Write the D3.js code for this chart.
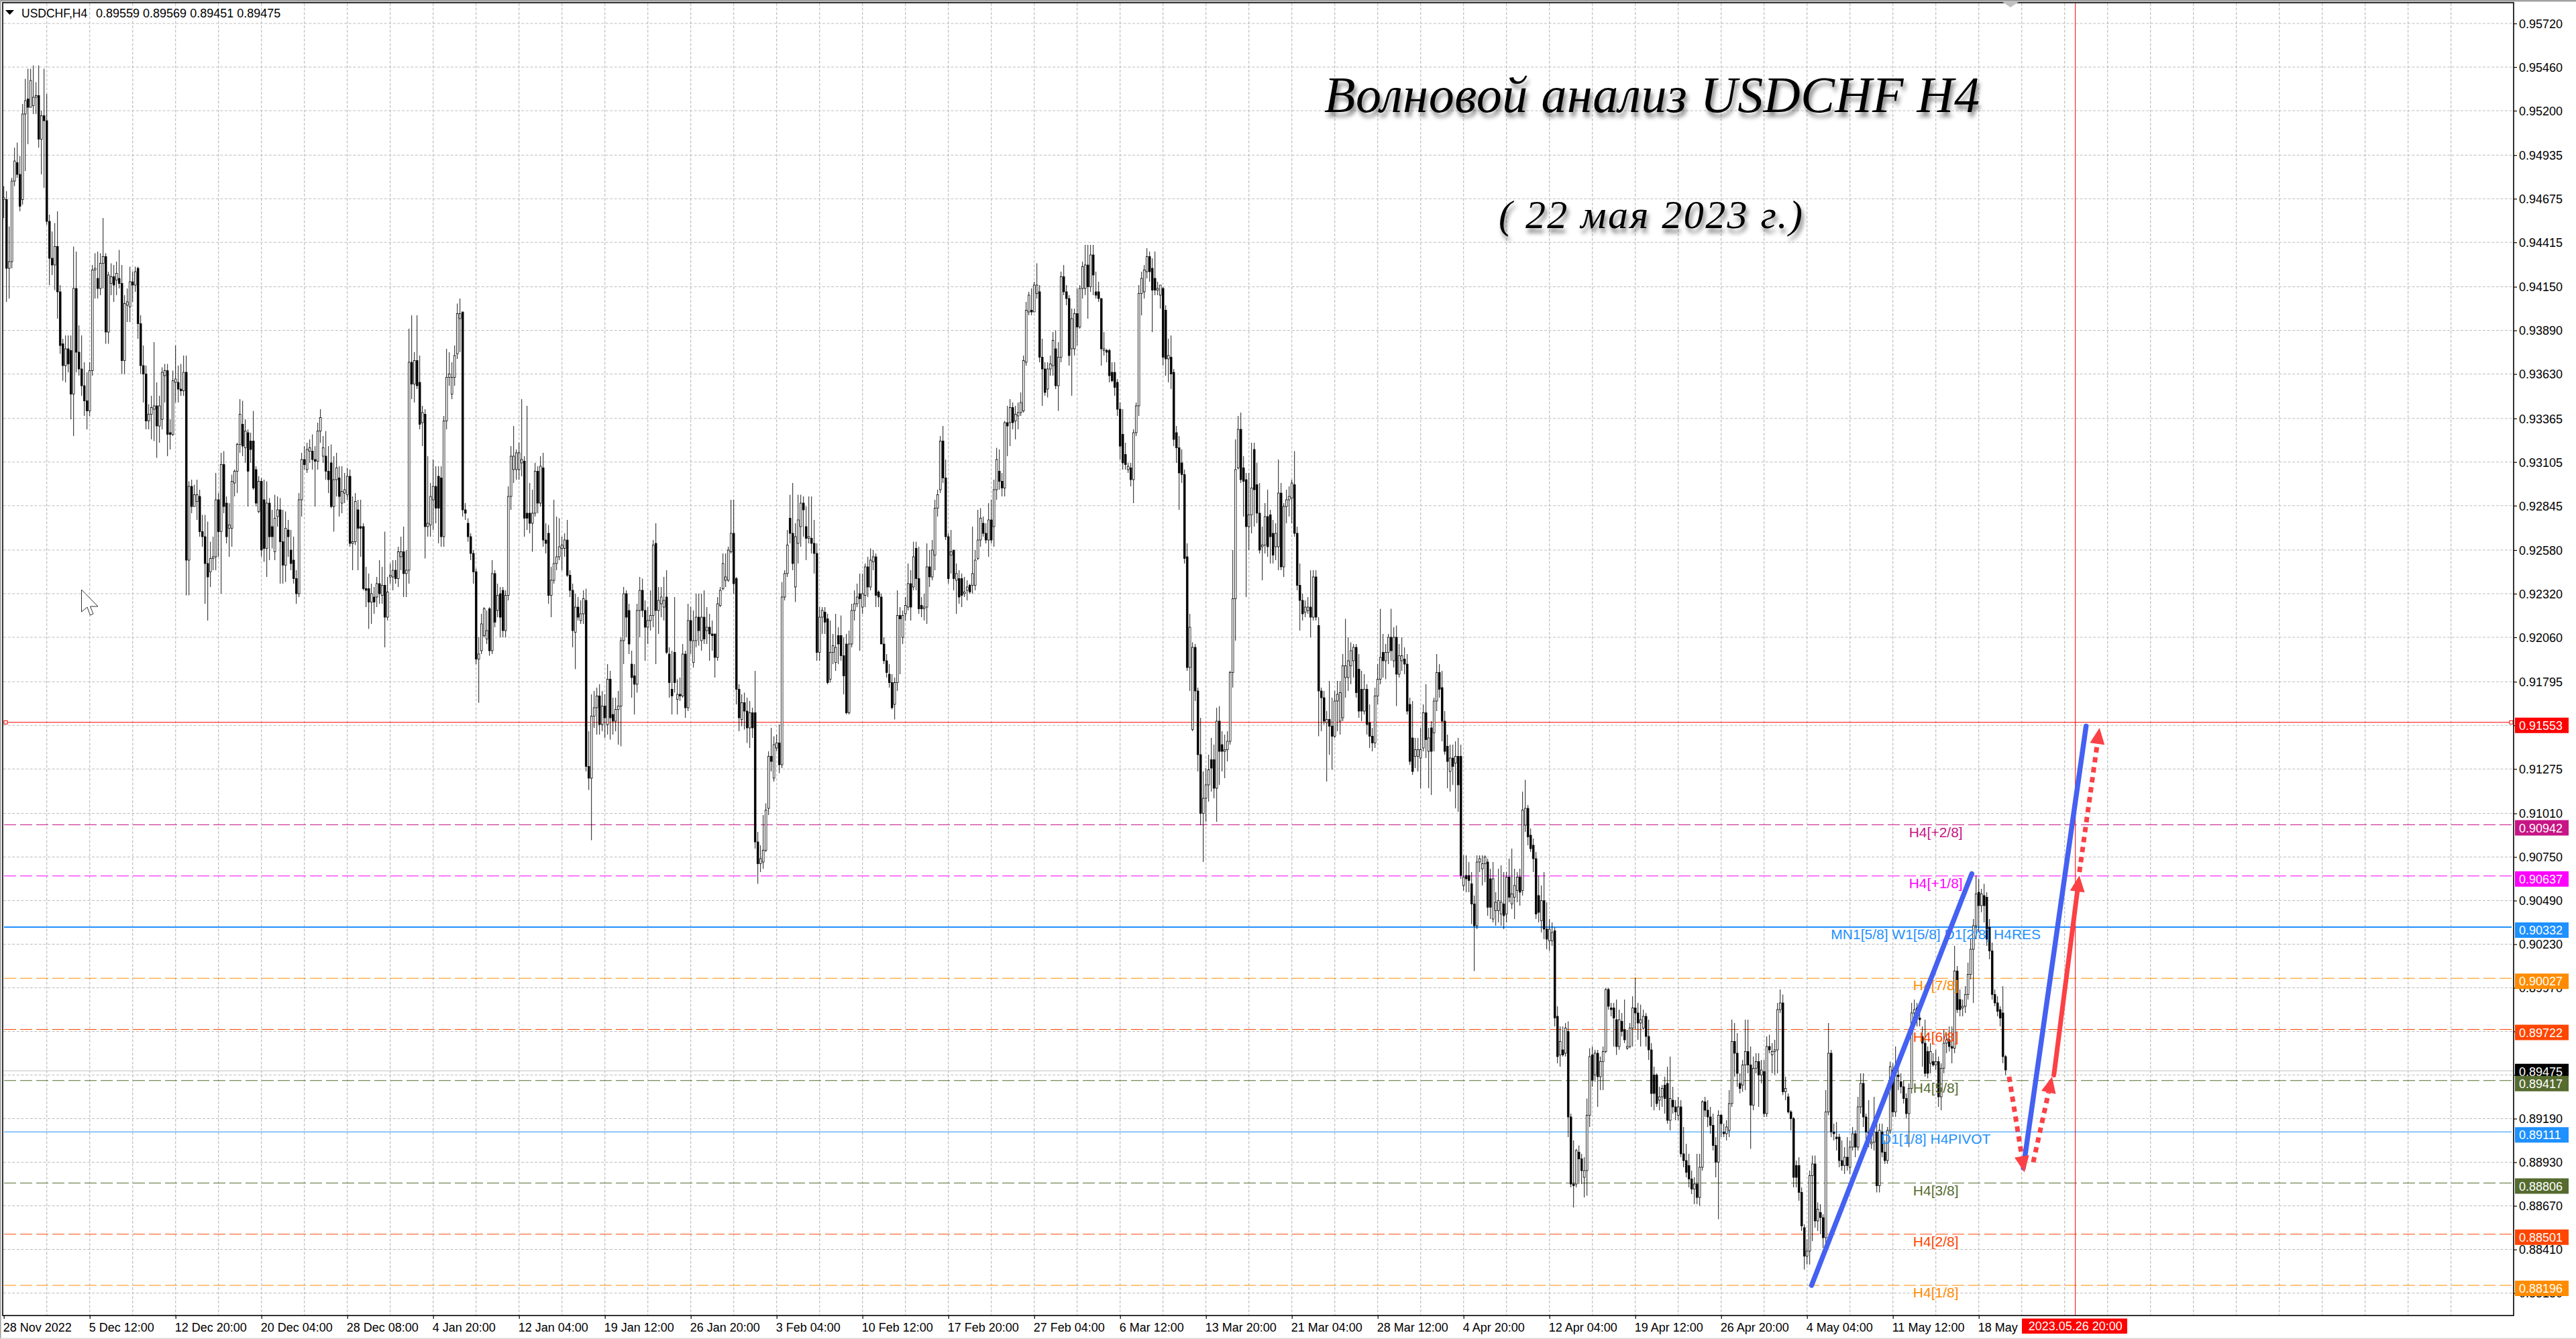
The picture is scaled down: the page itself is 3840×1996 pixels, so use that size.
<!DOCTYPE html>
<html><head><meta charset="utf-8">
<script src="https://d3js.org/d3.v7.min.js"></script>
<style>html,body{margin:0;padding:0;background:#fff;overflow:hidden}svg{display:block}text{font-family:"Liberation Sans",Arial,sans-serif}</style>
</head><body><svg id="c" width="3840" height="1996"></svg>
<script>
// Candle values in pips (1/10000)
const opens=[
9467,9467,9426,9430,9478,9489,9482,9467,9518,9527,
9522,9523,9528,9529,9503,9517,9514,9454,9432,9428,
9439,9412,9381,9368,9378,9377,9351,9414,9376,9366,
9356,9347,9341,9365,9425,9420,9414,9429,9433,9388,
9417,9421,9419,9420,9417,9371,9404,9403,9418,9416,
9426,9393,9368,9363,9335,9339,9342,9344,9332,9336,
9362,9365,9328,9327,9358,9358,9354,9353,9364,9252,
9296,9284,9287,9290,9269,9266,9250,9245,9253,9254,
9288,9269,9309,9286,9271,9271,9298,9305,9321,9333,
9319,9328,9323,9323,9306,9281,9299,9288,9259,9286,
9272,9257,9278,9282,9263,9249,9270,9258,9252,9241,
9232,9288,9312,9306,9317,9317,9312,9311,9329,9314,
9314,9305,9310,9284,9300,9301,9286,9292,9291,9302,
9262,9263,9282,9272,9272,9235,9235,9227,9230,9230,
9238,9231,9237,9218,9242,9242,9246,9241,9254,9257,
9244,9246,9370,9357,9371,9358,9334,9339,9272,9273,
9288,9296,9302,9301,9266,9335,9361,9351,9361,9375,
9396,9400,9282,9274,9266,9256,9245,9193,9198,9207,
9205,9223,9198,9244,9222,9232,9234,9210,9231,9290,
9306,9306,9306,9310,9311,9280,9280,9274,9280,9305,
9286,9307,9264,9268,9231,9240,9250,9254,9259,9259,
9264,9243,9234,9209,9224,9216,9220,9228,9129,9122,
9159,9164,9171,9154,9165,9154,9181,9160,9156,9163,
9165,9204,9232,9222,9190,9183,9178,9222,9234,9222,
9212,9216,9219,9262,9222,9226,9224,9230,9196,9175,
9197,9169,9172,9171,9196,9164,9216,9191,9204,9218,
9204,9218,9210,9212,9208,9208,9194,9225,9235,9240,
9240,9257,9268,9241,9175,9157,9167,9162,9152,9161,
9161,9084,9071,9072,9079,9104,9135,9122,9140,9143,
9130,9230,9244,9277,9268,9236,9262,9272,9286,9272,
9265,9265,9262,9256,9197,9218,9221,9217,9181,9197,
9191,9207,9207,9195,9202,9161,9202,9222,9226,9232,
9224,9231,9248,9236,9251,9254,9233,9230,9202,9192,
9184,9179,9166,9179,9219,9206,9220,9224,9238,9236,
9259,9241,9225,9223,9224,9248,9242,9255,9283,9294,
9323,9301,9266,9255,9258,9240,9241,9241,9232,9234,
9237,9237,9237,9253,9264,9274,9268,9264,9276,9272,
9294,9305,9299,9295,9334,9334,9343,9335,9338,9340,
9341,9370,9400,9401,9400,9411,9412,9373,9366,9354,
9366,9368,9378,9356,9373,9421,9412,9408,9378,9378,
9399,9391,9414,9414,9428,9415,9434,9412,9412,9408,
9377,9377,9377,9364,9364,9358,9342,9327,9315,9306,
9307,9300,9328,9344,9411,9412,9424,9433,9426,9420,
9413,9410,9414,9401,9372,9373,9364,9328,9319,9310,
9303,9254,9188,9151,9200,9174,9136,9101,9110,9118,
9133,9133,9116,9156,9142,9138,9139,9144,9185,9229,
9307,9330,9307,9300,9272,9279,9318,9297,9280,9260,
9261,9278,9279,9268,9260,9260,9292,9248,9284,9288,
9289,9297,9268,9237,9228,9221,9222,9224,9218,9242,
9213,9174,9170,9155,9157,9153,9147,9168,9156,9158,
9182,9182,9189,9192,9200,9187,9175,9162,9175,9155,
9147,9143,9171,9181,9197,9192,9197,9206,9192,9206,
9184,9192,9193,9190,9166,9146,9135,9135,9134,9140,
9161,9138,9152,9149,9168,9185,9176,9156,9141,9126,
9134,9131,9135,9135,9058,9064,9064,9059,9047,9034,
9072,9068,9071,9072,9062,9038,9043,9043,9041,9047,
9041,9063,9047,9051,9055,9063,9055,9094,9104,9088,
9082,9074,9052,9037,9049,9032,9025,9025,9031,8980,
8957,8960,8958,8971,8920,8880,8880,8899,8895,8884,
8888,8921,8957,8945,8958,8944,8953,8959,8996,8985,
8985,8978,8962,8977,8972,8961,8962,8973,8985,8982,
8976,8973,8980,8968,8960,8945,8945,8930,8932,8939,
8940,8918,8930,8926,8921,8926,8898,8894,8891,8883,
8877,8880,8872,8890,8929,8924,8920,8915,8903,8893,
8921,8911,8910,8912,8928,8965,8958,8940,8939,8951,
8959,8951,8927,8949,8953,8945,8947,8922,8962,8957,
8959,8960,8984,8988,8935,8932,8923,8919,8891,8891,
8875,8854,8837,8840,8885,8892,8858,8863,8860,8848,
8923,8958,8911,8908,8908,8894,8891,8896,8890,8902,
8910,8902,8926,8940,8920,8911,8904,8905,8911,8879,
8911,8899,8894,8912,8948,8923,8945,8941,8938,8931,
8922,8937,8982,8985,8979,8968,8964,8959,8952,8953,
8951,8953,8932,8949,8964,8966,8962,8961,9007,8990,
8985,8986,8993,9005,9020,9034,9054,9046,9052,9051,
9033,9019,8993,8988,8984,8982,8956];
const closes=[
9468,9426,9430,9478,9490,9482,9463,9518,9526,9522,
9538,9528,9529,9503,9517,9514,9454,9432,9428,9439,
9412,9380,9368,9378,9369,9351,9414,9376,9366,9356,
9347,9341,9365,9425,9426,9414,9429,9433,9388,9422,
9421,9416,9423,9417,9371,9405,9406,9418,9416,9424,
9393,9368,9363,9335,9339,9343,9344,9332,9344,9364,
9365,9327,9327,9359,9360,9354,9353,9364,9252,9296,
9284,9291,9291,9269,9266,9250,9242,9253,9254,9288,
9269,9309,9284,9266,9273,9299,9305,9321,9339,9320,
9329,9305,9318,9295,9286,9299,9258,9259,9286,9266,
9266,9277,9282,9263,9249,9271,9266,9250,9241,9232,
9288,9312,9309,9318,9319,9312,9311,9329,9337,9319,
9305,9300,9284,9300,9307,9290,9293,9294,9302,9262,
9263,9287,9271,9271,9235,9234,9227,9232,9227,9238,
9232,9237,9218,9233,9243,9246,9241,9257,9257,9244,
9246,9370,9357,9371,9356,9333,9340,9272,9274,9290,
9296,9283,9283,9266,9335,9361,9363,9361,9374,9399,
9399,9282,9280,9266,9256,9245,9193,9196,9214,9223,
9210,9198,9244,9215,9231,9218,9210,9231,9290,9314,
9314,9316,9316,9312,9277,9277,9274,9280,9305,9286,
9308,9264,9262,9231,9240,9250,9254,9260,9261,9264,
9243,9234,9210,9224,9218,9220,9229,9129,9122,9159,
9164,9171,9154,9165,9158,9181,9158,9156,9163,9165,
9204,9232,9218,9202,9182,9178,9222,9234,9222,9212,
9216,9219,9261,9222,9228,9230,9228,9197,9179,9171,
9179,9172,9171,9196,9164,9216,9204,9204,9218,9210,
9218,9205,9212,9208,9207,9194,9226,9234,9250,9242,
9258,9268,9238,9175,9158,9167,9162,9152,9161,9152,
9084,9071,9074,9079,9103,9135,9132,9142,9143,9130,
9230,9244,9261,9268,9250,9266,9276,9286,9282,9265,
9266,9262,9256,9197,9218,9222,9215,9179,9197,9201,
9200,9202,9195,9183,9161,9202,9222,9226,9230,9229,
9232,9248,9236,9252,9254,9231,9230,9202,9192,9185,
9179,9164,9179,9219,9217,9219,9225,9238,9224,9254,
9241,9223,9223,9224,9248,9242,9258,9283,9291,9323,
9301,9266,9241,9257,9241,9244,9230,9231,9233,9236,
9233,9244,9252,9264,9277,9268,9264,9276,9264,9294,
9312,9299,9295,9334,9332,9343,9334,9339,9340,9346,
9371,9401,9410,9400,9416,9416,9373,9366,9352,9366,
9369,9383,9356,9373,9421,9412,9408,9374,9396,9399,
9391,9414,9427,9428,9415,9434,9422,9410,9408,9378,
9378,9376,9362,9359,9355,9342,9320,9310,9309,9308,
9300,9328,9344,9411,9420,9425,9433,9424,9413,9413,
9414,9416,9373,9372,9374,9363,9324,9319,9304,9303,
9253,9188,9212,9200,9174,9136,9101,9110,9118,9127,
9128,9116,9156,9138,9138,9139,9144,9185,9229,9306,
9330,9300,9299,9272,9279,9295,9294,9280,9258,9261,
9278,9260,9266,9255,9268,9292,9248,9284,9288,9290,
9298,9268,9237,9228,9220,9224,9224,9218,9242,9218,
9174,9170,9156,9157,9153,9147,9168,9172,9173,9189,
9189,9192,9198,9200,9173,9162,9162,9175,9154,9147,
9143,9171,9181,9194,9192,9197,9206,9198,9206,9184,
9195,9195,9190,9162,9132,9126,9139,9139,9139,9161,
9145,9146,9138,9168,9185,9175,9156,9138,9132,9134,
9129,9135,9118,9064,9063,9062,9061,9047,9034,9072,
9074,9071,9075,9045,9045,9062,9048,9049,9048,9040,
9063,9051,9053,9058,9063,9054,9103,9104,9087,9080,
9074,9041,9042,9049,9032,9026,9032,9030,8979,8956,
8965,8957,8973,8920,8880,8879,8900,8895,8888,8888,
8921,8956,8942,8958,8944,8953,8959,8996,8986,8984,
8979,8962,8978,8971,8966,8962,8973,8985,8982,8976,
8978,8980,8968,8960,8934,8934,8928,8932,8937,8931,
8918,8931,8926,8923,8926,8898,8894,8887,8883,8877,
8880,8872,8890,8929,8924,8920,8915,8903,8893,8921,
8916,8910,8914,8928,8965,8958,8946,8937,8951,8959,
8951,8927,8949,8953,8945,8948,8922,8962,8960,8959,
8960,8984,8988,8935,8937,8923,8919,8884,8884,8875,
8855,8837,8840,8885,8892,8858,8865,8860,8848,8923,
8958,8911,8910,8907,8894,8891,8896,8891,8902,8910,
8902,8926,8940,8920,8911,8905,8905,8911,8879,8912,
8899,8894,8912,8950,8923,8945,8944,8938,8931,8922,
8937,8982,8984,8979,8978,8964,8946,8946,8959,8951,
8953,8932,8949,8964,8966,8962,8961,9007,8984,8984,
8986,8993,9005,9020,9034,9053,9046,9053,9046,9026,
9019,8993,8988,8983,8979,8956,8948];
const highs=[
9475,9472,9451,9480,9498,9501,9493,9524,9539,9545,
9545,9547,9537,9547,9520,9545,9530,9458,9448,9453,
9460,9416,9384,9386,9386,9386,9439,9436,9392,9386,
9370,9364,9370,9428,9435,9436,9435,9456,9435,9424,
9429,9428,9430,9437,9428,9410,9414,9427,9424,9427,
9427,9398,9380,9368,9345,9350,9382,9358,9350,9367,
9369,9369,9336,9365,9380,9368,9369,9374,9374,9299,
9300,9297,9300,9294,9279,9279,9275,9263,9266,9304,
9292,9316,9317,9290,9286,9303,9306,9322,9348,9347,
9336,9330,9328,9341,9308,9302,9301,9300,9299,9289,
9282,9291,9290,9289,9282,9281,9276,9270,9266,9246,
9292,9316,9320,9322,9324,9327,9320,9334,9342,9326,
9329,9320,9321,9314,9316,9308,9308,9304,9307,9306,
9290,9292,9288,9288,9274,9248,9244,9238,9236,9242,
9252,9248,9269,9242,9250,9252,9252,9260,9266,9272,
9258,9390,9398,9376,9398,9374,9344,9342,9314,9298,
9312,9308,9308,9308,9338,9378,9376,9370,9380,9405,
9408,9400,9286,9277,9268,9258,9247,9206,9220,9224,
9222,9224,9252,9246,9238,9236,9236,9234,9296,9320,
9332,9318,9322,9348,9314,9344,9298,9294,9310,9308,
9314,9316,9274,9273,9248,9288,9278,9277,9266,9268,
9276,9246,9238,9232,9230,9228,9234,9235,9150,9172,
9174,9176,9178,9174,9172,9190,9186,9170,9170,9174,
9206,9236,9234,9226,9198,9190,9226,9242,9241,9228,
9224,9234,9264,9274,9236,9236,9242,9246,9200,9198,
9230,9181,9182,9202,9198,9226,9224,9222,9232,9232,
9232,9234,9224,9220,9216,9208,9230,9236,9256,9256,
9260,9288,9288,9242,9178,9172,9173,9170,9168,9164,
9186,9090,9082,9100,9107,9138,9152,9147,9148,9154,
9239,9246,9270,9291,9298,9274,9291,9291,9290,9284,
9290,9290,9276,9262,9224,9224,9224,9220,9216,9208,
9220,9212,9219,9206,9208,9210,9226,9234,9238,9244,
9244,9250,9254,9259,9258,9256,9234,9232,9206,9196,
9190,9184,9182,9234,9224,9222,9230,9250,9246,9263,
9263,9260,9230,9232,9262,9258,9264,9288,9294,9326,
9332,9312,9268,9270,9258,9250,9246,9244,9242,9240,
9238,9272,9258,9282,9283,9278,9274,9286,9288,9300,
9319,9318,9304,9335,9344,9348,9346,9344,9346,9352,
9374,9406,9412,9414,9418,9429,9416,9384,9370,9370,
9374,9388,9389,9382,9424,9428,9416,9410,9402,9402,
9414,9416,9430,9440,9440,9440,9440,9424,9418,9408,
9388,9378,9378,9370,9370,9360,9346,9342,9322,9310,
9310,9330,9346,9416,9424,9428,9438,9436,9432,9436,
9418,9416,9415,9404,9384,9386,9366,9332,9326,9318,
9306,9262,9220,9203,9202,9176,9158,9126,9128,9136,
9146,9142,9164,9165,9150,9148,9150,9186,9258,9324,
9338,9340,9314,9304,9304,9322,9322,9310,9298,9272,
9286,9294,9282,9276,9274,9312,9298,9286,9294,9296,
9300,9317,9272,9250,9232,9228,9230,9246,9246,9246,
9218,9176,9174,9162,9180,9170,9174,9180,9180,9196,
9217,9206,9203,9202,9202,9196,9186,9184,9178,9166,
9152,9176,9190,9223,9208,9202,9208,9223,9212,9213,
9202,9206,9200,9196,9170,9168,9146,9146,9152,9166,
9178,9152,9156,9170,9196,9190,9186,9162,9148,9142,
9142,9144,9146,9142,9076,9076,9072,9066,9052,9076,
9076,9076,9076,9074,9068,9072,9054,9068,9070,9066,
9066,9074,9080,9068,9066,9068,9114,9121,9106,9092,
9086,9078,9064,9058,9066,9048,9038,9036,9033,8986,
8974,8974,8976,8977,8922,8906,8901,8903,8898,8896,
8931,8961,8962,8960,8960,8956,8962,8997,8997,8988,
8988,8990,8984,8982,8990,8972,8976,8992,9003,8988,
8987,8984,8982,8978,8964,8950,8946,8938,8939,8944,
8950,8956,8938,8930,8932,8930,8914,8904,8898,8888,
8884,8898,8898,8930,8932,8930,8926,8922,8908,8924,
8922,8916,8918,8936,8978,8976,8970,8946,8954,8978,
8978,8962,8956,8958,8958,8954,8954,8968,8969,8964,
8966,8988,8996,8993,8944,8934,8924,8920,8894,8896,
8878,8856,8847,8888,8897,8897,8869,8868,8862,8936,
8976,8960,8916,8917,8910,8906,8902,8908,8906,8914,
8912,8932,8946,8946,8922,8930,8910,8932,8920,8916,
8916,8906,8914,8953,8952,8962,8950,8946,8942,8934,
8940,8988,8990,8988,8982,8974,8978,8962,8964,8958,
8960,8956,8952,8972,8970,8974,8974,9022,9010,8996,
8990,8998,9012,9026,9038,9064,9062,9056,9059,9054,
9038,9024,8996,8992,8986,8998,8957];
const lows=[
9456,9406,9408,9426,9475,9480,9460,9464,9484,9500,
9522,9518,9518,9498,9482,9474,9452,9416,9422,9413,
9396,9375,9359,9358,9364,9336,9326,9364,9362,9350,
9338,9330,9338,9362,9408,9408,9410,9414,9381,9381,
9410,9406,9410,9414,9363,9363,9394,9394,9406,9412,
9384,9363,9346,9330,9330,9324,9323,9313,9322,9330,
9346,9314,9318,9326,9346,9346,9350,9350,9231,9231,
9280,9284,9276,9266,9260,9226,9216,9236,9246,9246,
9254,9232,9280,9262,9254,9260,9290,9292,9316,9314,
9310,9284,9310,9294,9284,9280,9254,9251,9242,9252,
9259,9252,9272,9238,9238,9239,9254,9246,9238,9226,
9230,9278,9306,9304,9310,9306,9284,9306,9322,9310,
9300,9292,9283,9269,9290,9278,9280,9286,9288,9260,
9246,9261,9246,9254,9234,9224,9211,9214,9220,9224,
9226,9226,9200,9216,9238,9234,9238,9236,9246,9230,
9230,9238,9348,9346,9354,9330,9320,9253,9266,9266,
9270,9274,9262,9260,9260,9330,9356,9348,9356,9372,
9376,9278,9276,9263,9252,9238,9190,9167,9196,9206,
9202,9195,9196,9212,9218,9206,9206,9206,9228,9282,
9298,9300,9300,9302,9266,9270,9268,9257,9278,9280,
9284,9260,9256,9226,9218,9238,9246,9252,9246,9254,
9242,9230,9200,9187,9216,9214,9214,9126,9115,9085,
9152,9148,9148,9150,9146,9148,9145,9148,9150,9142,
9141,9190,9206,9196,9170,9160,9173,9206,9218,9192,
9202,9210,9212,9190,9208,9218,9216,9196,9170,9160,
9173,9160,9168,9170,9158,9162,9196,9188,9200,9201,
9198,9202,9202,9192,9198,9182,9192,9224,9234,9236,
9239,9256,9232,9166,9150,9153,9151,9143,9140,9146,
9080,9059,9066,9068,9078,9100,9126,9120,9138,9125,
9128,9228,9242,9262,9246,9227,9250,9260,9266,9252,
9262,9256,9244,9192,9192,9208,9208,9178,9179,9190,
9186,9190,9192,9172,9160,9160,9200,9216,9224,9198,
9220,9224,9230,9234,9246,9224,9224,9202,9190,9182,
9176,9163,9157,9174,9184,9202,9216,9222,9216,9234,
9234,9220,9218,9216,9214,9236,9240,9246,9278,9292,
9298,9264,9238,9244,9234,9220,9226,9224,9230,9228,
9232,9232,9234,9252,9260,9266,9262,9254,9262,9260,
9288,9294,9290,9290,9314,9320,9330,9324,9330,9338,
9340,9368,9398,9398,9400,9408,9370,9344,9350,9349,
9362,9362,9354,9341,9370,9410,9404,9368,9350,9374,
9380,9390,9408,9410,9396,9412,9410,9408,9406,9368,
9374,9370,9358,9358,9350,9338,9312,9306,9306,9304,
9296,9286,9326,9338,9398,9408,9420,9418,9388,9410,
9410,9402,9368,9362,9358,9354,9320,9310,9282,9298,
9250,9186,9174,9150,9168,9126,9094,9072,9096,9108,
9114,9110,9096,9118,9126,9122,9132,9142,9176,9204,
9306,9298,9278,9230,9258,9268,9272,9274,9256,9240,
9256,9254,9250,9250,9252,9246,9246,9242,9274,9278,
9274,9266,9234,9210,9216,9218,9220,9206,9216,9216,
9147,9150,9154,9120,9136,9127,9146,9150,9148,9156,
9170,9174,9178,9182,9170,9158,9156,9160,9148,9140,
9138,9140,9166,9178,9182,9181,9190,9192,9188,9165,
9182,9186,9184,9160,9130,9124,9128,9126,9116,9138,
9134,9116,9112,9138,9162,9170,9144,9136,9116,9114,
9118,9104,9102,9062,9055,9054,9054,9035,9007,9032,
9066,9058,9060,9040,9038,9036,9034,9036,9034,9032,
9036,9048,9044,9038,9048,9046,9052,9090,9082,9078,
9066,9038,9036,9030,9026,9020,9019,9022,8974,8952,
8950,8956,8956,8908,8878,8866,8878,8880,8880,8872,
8873,8914,8938,8941,8926,8936,8936,8958,8984,8980,
8962,8957,8960,8968,8964,8960,8961,8962,8972,8966,
8962,8972,8962,8954,8926,8924,8926,8924,8926,8922,
8916,8912,8922,8918,8918,8896,8890,8884,8878,8874,
8868,8868,8867,8888,8920,8914,8910,8900,8884,8859,
8908,8908,8906,8908,8926,8944,8938,8934,8935,8936,
8946,8901,8924,8946,8926,8940,8920,8920,8958,8946,
8945,8946,8982,8933,8930,8922,8912,8878,8878,8870,
8852,8829,8832,8832,8846,8854,8852,8850,8842,8843,
8921,8908,8906,8900,8890,8888,8886,8888,8886,8900,
8896,8900,8922,8914,8906,8902,8901,8900,8875,8875,
8896,8892,8892,8910,8920,8920,8936,8934,8928,8919,
8902,8934,8980,8974,8974,8950,8944,8943,8946,8950,
8948,8926,8924,8946,8958,8959,8952,8958,8982,8980,
8980,8982,8990,9002,8988,9026,9030,9042,9036,9022,
9014,8990,8986,8980,8974,8952,8945];

const priceTicks=[0.95720,0.95460,0.95200,0.94935,0.94675,0.94415,0.94150,0.93890,0.93630,0.93365,0.93105,0.92845,0.92580,0.92320,0.92060,0.91795,0.91535,0.91275,0.91010,0.90750,0.90490,0.90230,0.89970,0.89710,0.89450,0.89190,0.88930,0.88670,0.88410,0.88150];
const timeLabels=["28 Nov 2022","5 Dec 12:00","12 Dec 20:00","20 Dec 04:00","28 Dec 08:00","4 Jan 20:00","12 Jan 04:00","19 Jan 12:00","26 Jan 20:00","3 Feb 04:00","10 Feb 12:00","17 Feb 20:00","27 Feb 04:00","6 Mar 12:00","13 Mar 20:00","21 Mar 04:00","28 Mar 12:00","4 Apr 20:00","12 Apr 04:00","19 Apr 12:00","26 Apr 20:00","4 May 04:00","11 May 12:00","18 May"];
const levelPrices=[0.91553,0.90942,0.90637,0.90332,0.90027,0.89722,0.89417,0.89111,0.88806,0.88501,0.88196];
const levelColors=["#ff0000","#c71585","#ff00ff","#1e90ff","#ff8c00","#ff4500","#556b2f","#1e90ff","#556b2f","#ff4500","#ff8c00"];
const levelDashed=[false,true,true,false,true,true,true,false,true,true,true];
const levelWidths=[1,1.1,1.1,2,1.1,1.1,1.1,1,1.1,1.1,1.1];
const levelTexts=["","H4[+2/8]","H4[+1/8]","MN1[5/8] W1[5/8] D1[2/8] H4RES","H4[7/8]","H4[6/8]","H4[5/8]","D1[1/8] H4PIVOT","H4[3/8]","H4[2/8]","H4[1/8]"];
const lastPrice=0.89475, ohlcText="0.89559 0.89569 0.89451 0.89475";
const cursorBar=772, cursorLabel="2023.05.26 20:00", labelBar=720;
const blueWaves=[[[673.7,0.88196],[733.4,0.9065]],[[752.6,0.88896],[776,0.9153]]];
const redArrows=[
 {dotted:true,pts:[[747.3,0.8944],[753,0.8887]]},
 {dotted:true,pts:[[756.3,0.8893],[763.3,0.8944]]},
 {dotted:false,pts:[[764,0.8945],[773.5,0.9064]]},
 {dotted:true,pts:[[773.5,0.9066],[781,0.9152]]}];

const L=5,R=3747,T=5,B=1961;
const x=d3.scaleLinear().domain([0,1]).range([5.7,9.7]);
const y=d3.scaleLinear().domain([0.9572,0.8815]).range([35,1927.5]);
const pip=v=>v/10000;
const svg=d3.select("#c");
const defs=svg.append("defs");
const sh=defs.append("filter").attr("id","sh").attr("x","-5%").attr("y","-30%").attr("width","110%").attr("height","170%");
sh.append("feDropShadow").attr("dx",3).attr("dy",7).attr("stdDeviation",3).attr("flood-color","#000").attr("flood-opacity",0.5);

svg.append("rect").attr("width",3840).attr("height",1996).attr("fill","#fff");
svg.append("rect").attr("x",0).attr("y",0).attr("width",3840).attr("height",2.5).attr("fill","#a0a0a0");
svg.append("rect").attr("x",0).attr("y",0).attr("width",1.5).attr("height",1996).attr("fill","#a0a0a0");
svg.append("rect").attr("x",0).attr("y",1994.5).attr("width",3840).attr("height",1.5).attr("fill","#d8d8d8");

// grid
const g=svg.append("g").attr("fill","none").attr("stroke","#bdbdbd").attr("stroke-width",1.2).attr("stroke-dasharray","4 2.6");
g.selectAll("line.h").data(priceTicks).join("line").attr("x1",L).attr("x2",R).attr("y1",d=>y(d)).attr("y2",d=>y(d));
g.selectAll("line.v").data(d3.range(16,16*58,16)).join("line").attr("x1",d=>x(d)).attr("x2",d=>x(d)).attr("y1",T).attr("y2",B);

// levels
const lv=svg.append("g");
lv.selectAll("line").data(levelPrices).join("line")
 .attr("x1",6).attr("x2",R-3).attr("y1",d=>y(d)).attr("y2",d=>y(d))
 .attr("stroke",(d,i)=>levelColors[i]).attr("stroke-width",(d,i)=>levelWidths[i])
 .attr("stroke-dasharray",(d,i)=>levelDashed[i]?"18 6":null);
svg.append("line").attr("x1",L).attr("x2",R).attr("y1",y(lastPrice)).attr("y2",y(lastPrice)).attr("stroke","#c0c0c0").attr("stroke-width",1.1);

// candles
const bars=closes.map((c,i)=>({i,o:pip(opens[i]),h:pip(highs[i]),l:pip(lows[i]),c:pip(c)}));
const cg=svg.append("g");
cg.selectAll("line").data(bars).join("line").attr("x1",d=>x(d.i)).attr("x2",d=>x(d.i))
 .attr("y1",d=>y(d.h)).attr("y2",d=>y(d.l)).attr("stroke","#000").attr("stroke-width",0.9);
cg.selectAll("rect").data(bars).join("rect")
 .attr("x",d=>x(d.i)-1.35).attr("width",2.7)
 .attr("y",d=>y(Math.max(d.o,d.c))).attr("height",d=>Math.max(0.5,Math.abs(y(d.o)-y(d.c))))
 .attr("fill",d=>d.c>=d.o?"#fff":"#000").attr("stroke","#000").attr("stroke-width",0.8);

// crosshair line and ends of top level
svg.append("line").attr("x1",x(cursorBar)).attr("x2",x(cursorBar)).attr("y1",T).attr("y2",B).attr("stroke","#ff0000").attr("stroke-width",1);
[6,R-6].forEach(px=>svg.append("rect").attr("x",px).attr("y",y(levelPrices[0])-2.5).attr("width",5).attr("height",5).attr("fill","#fff").attr("stroke","#ff0000").attr("stroke-width",1));

// level names
svg.append("g").selectAll("text").data(levelTexts).join("text")
 .attr("x",x(labelBar)).attr("y",(d,i)=>y(levelPrices[i])+18).attr("text-anchor","middle")
 .attr("font-size",21).attr("fill",(d,i)=>levelColors[i]).text(d=>d);

// wave lines
const line=d3.line().x(d=>x(d[0])).y(d=>y(d[1]));
svg.append("g").selectAll("path").data(blueWaves).join("path").attr("d",line)
 .attr("fill","none").attr("stroke","#4561f2").attr("stroke-width",7.5).attr("stroke-linecap","round");
const RED="#fb4146";
redArrows.forEach(a=>{
 const [p,q]=a.pts; const px=x(p[0]),py=y(p[1]),qx=x(q[0]),qy=y(q[1]);
 const len=Math.hypot(qx-px,qy-py),ux=(qx-px)/len,uy=(qy-py)/len,hl=24,hw=11;
 const bx=qx-ux*hl,by=qy-uy*hl;
 svg.append("line").attr("x1",px).attr("y1",py).attr("x2",bx).attr("y2",by)
  .attr("stroke",RED).attr("stroke-width",7).attr("stroke-linecap",a.dotted?"butt":"round")
  .attr("stroke-dasharray",a.dotted?"8 7":null);
 svg.append("path").attr("d",`M${qx},${qy}L${bx-uy*hw},${by+ux*hw}L${bx+uy*hw},${by-ux*hw}Z`).attr("fill",RED);
});

// frame
svg.append("rect").attr("x",L-1).attr("y",T-1).attr("width",R-L+1).attr("height",B-T+1).attr("fill","none").attr("stroke","#000").attr("stroke-width",1.6);

// price axis
const ay=svg.append("g").attr("transform",`translate(${R},0)`)
 .call(d3.axisRight(y).tickValues(priceTicks).tickFormat(d3.format(".5f")).tickSize(5).tickPadding(3));
ay.select(".domain").remove();
ay.selectAll("line").attr("stroke","#000").attr("stroke-width",1.2);
ay.selectAll("text").attr("font-size",18).attr("font-family","Liberation Sans").attr("fill","#000").attr("dy","0.36em");

// level price boxes
const boxes=levelPrices.slice(1).map((p,i)=>({p,c:levelColors[i+1],off:4.5}));
boxes.unshift({p:levelPrices[0],c:levelColors[0],off:4.5});
boxes.splice(6,0,{p:lastPrice,c:"#000",off:1});
const bg=svg.append("g");
boxes.forEach(b=>{
 const cy=y(b.p)+b.off;
 bg.append("rect").attr("x",R+2).attr("y",cy-11.5).attr("width",80).attr("height",23).attr("fill",b.c);
 bg.append("text").attr("x",R+8).attr("y",cy+6.5).attr("font-size",18).attr("fill","#fff").text(d3.format(".5f")(b.p));
});

// time axis
const ax=svg.append("g").attr("transform",`translate(0,${B})`)
 .call(d3.axisBottom(x).tickValues(timeLabels.map((d,i)=>i*32)).tickFormat((d,i)=>timeLabels[i]).tickSize(5).tickPadding(3));
ax.select(".domain").remove();
ax.selectAll("line").attr("stroke","#000").attr("stroke-width",1.2);
ax.selectAll("text").attr("font-size",18).attr("font-family","Liberation Sans").attr("fill","#000").attr("text-anchor","start").attr("y",8).attr("dy","0.9em").attr("x",-1.5);
// cursor date box
svg.append("rect").attr("x",3014).attr("y",1965.5).attr("width",157).attr("height",22.5).attr("fill","#ff0000");
svg.append("text").attr("x",x(cursorBar)).attr("y",1983).attr("text-anchor","middle").attr("font-size",18).attr("fill","#fff").text(cursorLabel);

// header
svg.append("path").attr("d","M8,15L21,15L14.5,22Z").attr("fill","#000");
svg.append("text").attr("x",32).attr("y",26).attr("font-size",17.5).attr("fill","#000").text("USDCHF,H4");
svg.append("text").attr("x",143).attr("y",26).attr("font-size",18).attr("fill","#000").text(ohlcText);
svg.append("path").attr("d","M2985,3L3009,3L2997,11Z").attr("fill","#c0c0c0");

// title
const tt=svg.append("g").attr("filter","url(#sh)").attr("fill","#000")
 .style("font-style","italic");
tt.append("text").attr("x",1974).attr("y",167).attr("font-size",76).attr("textLength",977).attr("lengthAdjust","spacing").style("font-family","'Liberation Serif',serif").text("Волновой анализ USDCHF H4");
tt.append("text").attr("x",2234).attr("y",340).attr("font-size",60).attr("textLength",453).attr("lengthAdjust","spacing").style("font-family","'Liberation Serif',serif").text("( 22 мая 2023 г.)");

// mouse pointer
svg.append("path").attr("d","M121.5,879L121.5,912L130,905L134.5,917L139,915L134.5,904L146,904Z").attr("fill","#fff").attr("stroke","#333").attr("stroke-width",1);
</script></body></html>
